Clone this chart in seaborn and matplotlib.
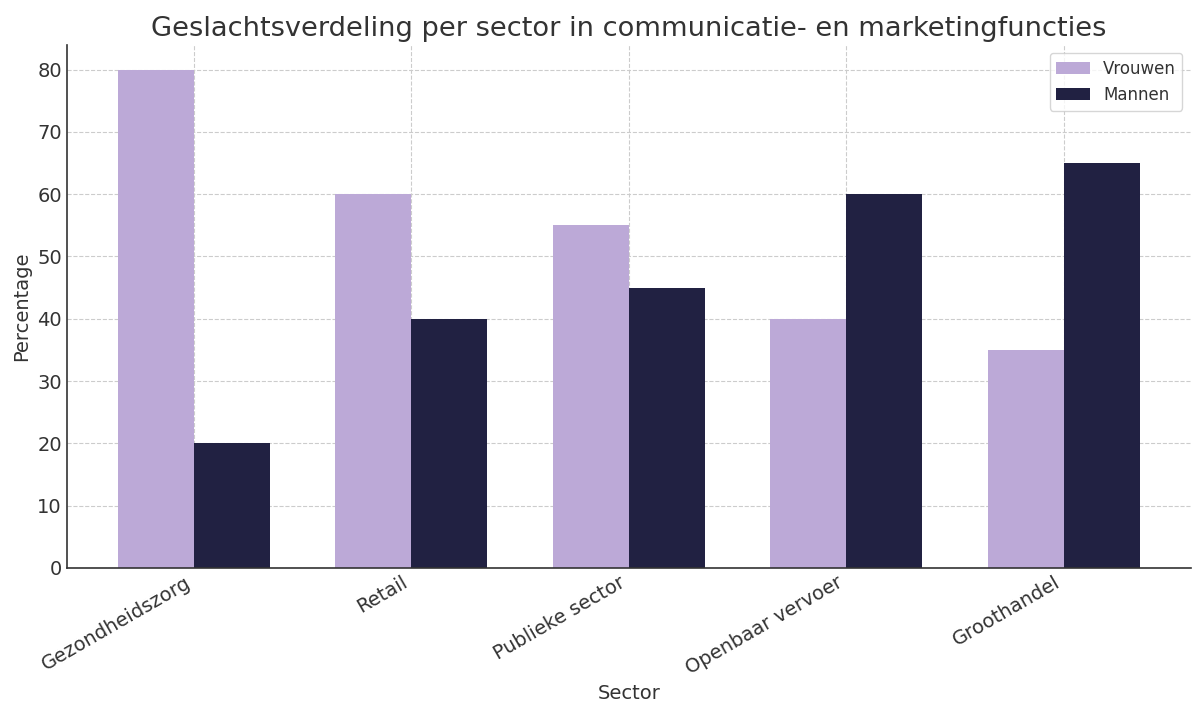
import matplotlib
matplotlib.use("Agg")
import matplotlib.pyplot as plt
import seaborn as sns
import pandas as pd

sectors = ["Gezondheidszorg", "Retail", "Publieke sector", "Openbaar vervoer", "Groothandel"]
vrouwen = [80, 60, 55, 40, 35]
mannen = [20, 40, 45, 60, 65]
series_names = ["Vrouwen", "Mannen"]
colors = ["#BCA9D7", "#212142"]

df = pd.DataFrame({
    "Sector": sectors * 2,
    "Percentage": vrouwen + mannen,
    "Geslacht": [series_names[0]] * len(sectors) + [series_names[1]] * len(sectors),
})

sns.set_style("whitegrid")
plt.rcParams["font.family"] = ["DejaVu Sans"]
text_color = "#333333"

fig, ax = plt.subplots(figsize=(11.92, 7.09), dpi=100)
sns.barplot(data=df, x="Sector", y="Percentage", hue="Geslacht",
            palette=colors, width=0.7, gap=0, saturation=1, ax=ax,
            edgecolor="none", linewidth=0)

ax.set_xlim(-0.585, 4.585)
ax.set_ylim(0, 84)
ax.grid(True, linestyle="--", color="#cccccc", linewidth=0.8)
ax.set_axisbelow(True)
for s in ["top", "right"]:
    ax.spines[s].set_visible(False)
for s in ["left", "bottom"]:
    ax.spines[s].set_color("#333333")
    ax.spines[s].set_linewidth(1.2)

ax.set_title("Geslachtsverdeling per sector in communicatie- en marketingfuncties",
             fontsize=19.6, color=text_color)
ax.set_xlabel("Sector", fontsize=14, color=text_color)
ax.set_ylabel("Percentage", fontsize=14, color=text_color)
ax.tick_params(axis="both", labelsize=14, colors=text_color, length=0)
plt.setp(ax.get_xticklabels(), rotation=30, ha="right", rotation_mode="default")

leg = ax.legend(title=None, fontsize=12, loc="upper right", frameon=True,
                bbox_to_anchor=(1.0, 1.0))
for t in leg.get_texts():
    t.set_color(text_color)

fig.subplots_adjust(left=0.056, right=0.999, top=0.937, bottom=0.199)
fig.savefig("out.png", dpi=100)
